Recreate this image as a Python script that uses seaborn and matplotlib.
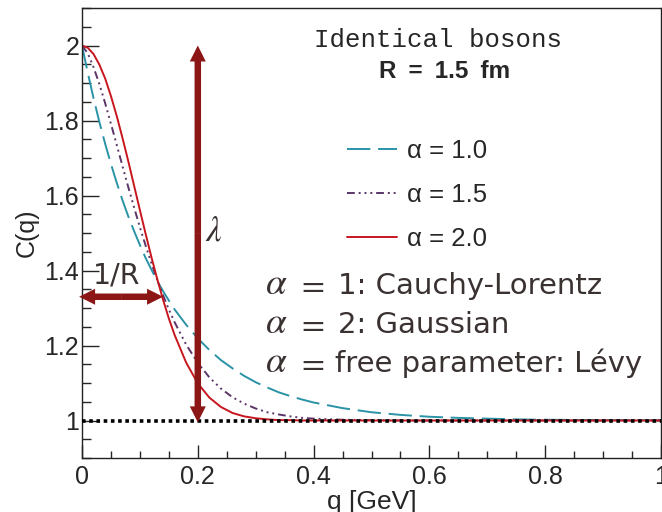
import matplotlib
matplotlib.use("Agg")
import matplotlib.pyplot as plt
import seaborn as sns
from matplotlib.ticker import MultipleLocator
from matplotlib.lines import Line2D

# Levy-type two-particle correlation C(q) for identical bosons, R = 1.5 fm
q_gev = [0.00, 0.01, 0.02, 0.03, 0.04, 0.05, 0.06, 0.07, 0.08, 0.09,
         0.10, 0.11, 0.12, 0.13, 0.14, 0.15, 0.16, 0.18, 0.20, 0.22,
         0.24, 0.26, 0.28, 0.30, 0.32, 0.34, 0.36, 0.38, 0.40, 0.45,
         0.50, 0.55, 0.60, 0.65, 0.70, 0.75, 0.80, 0.85, 0.90, 0.95, 1.00]

c_alpha_10 = [2.000, 1.927, 1.859, 1.796, 1.738, 1.684, 1.634, 1.587, 1.544, 1.505,
              1.468, 1.433, 1.402, 1.372, 1.345, 1.320, 1.296, 1.255, 1.219, 1.188,
              1.161, 1.139, 1.119, 1.102, 1.088, 1.075, 1.065, 1.056, 1.048, 1.033,
              1.022, 1.015, 1.010, 1.007, 1.005, 1.003, 1.002, 1.0015, 1.001, 1.0007, 1.0005]

c_alpha_15 = [2.000, 1.979, 1.942, 1.897, 1.846, 1.791, 1.735, 1.678, 1.622, 1.568,
              1.515, 1.466, 1.419, 1.375, 1.334, 1.296, 1.262, 1.202, 1.154, 1.115,
              1.085, 1.062, 1.045, 1.032, 1.022, 1.016, 1.011, 1.007, 1.005, 1.002,
              1.001, 1.000, 1.000, 1.000, 1.000, 1.000, 1.000, 1.000, 1.000, 1.000, 1.000]

c_alpha_20 = [2.000, 1.994, 1.977, 1.949, 1.912, 1.865, 1.812, 1.753, 1.691, 1.626,
              1.561, 1.497, 1.435, 1.377, 1.322, 1.272, 1.228, 1.154, 1.099, 1.061,
              1.036, 1.020, 1.011, 1.006, 1.003, 1.001, 1.001, 1.000, 1.000, 1.000,
              1.000, 1.000, 1.000, 1.000, 1.000, 1.000, 1.000, 1.000, 1.000, 1.000, 1.000]

series_labels = ["\u03b1 = 1.0", "\u03b1 = 1.5", "\u03b1 = 2.0"]
x_ticks = [0.0, 0.2, 0.4, 0.6, 0.8, 1.0]
x_tick_labels = ["0", "0.2", "0.4", "0.6", "0.8", "1"]
y_ticks = [1.0, 1.2, 1.4, 1.6, 1.8, 2.0]
y_tick_labels = ["1", "1.2", "1.4", "1.6", "1.8", "2"]
baseline = 1.0

# annotation arrows: intercept strength lambda at q = 0.2, width 1/R at C = 1.33
lambda_q = 0.2
lambda_range = (0.995, 2.0)
inv_r_level = 1.33
inv_r_range = (-0.005, 0.140)

note_values = ["1: Cauchy-Lorentz", "2: Gaussian", "free parameter: L\u00e9vy"]

W, H = 662, 512
sns.set_style("ticks")
plt.rcParams["font.family"] = ["Liberation Sans", "DejaVu Sans"]
plt.rcParams["mathtext.fontset"] = "stix"

fig = plt.figure(figsize=(W / 100, H / 100), dpi=100)
ax = fig.add_axes([82 / W, 1 - 458 / H, (661 - 82) / W, (458 - 8) / H])


def fx(px):
    return px / W


def fy(py):
    return 1 - py / H


teal = "#2a93a6"
purple = "#5b3568"
red = "#c8161e"
arrow_red = "#8c1616"
note_col = "#3a3131"

styles = [
    (c_alpha_10, teal, (0, (12, 4))),
    (c_alpha_15, purple, (0, (4, 2, 1, 2, 1, 2, 1, 2))),
    (c_alpha_20, red, "-"),
]
for vals, col, ls in styles:
    sns.lineplot(x=q_gev, y=vals, ax=ax, color=col, linewidth=1.4,
                 linestyle=ls, errorbar=None, legend=False)

ax.axhline(baseline, color="black", linewidth=2.6, linestyle=(0, (1, 1)),
           dash_capstyle="butt", zorder=4)

ax.set_xlim(0, 1)
ax.set_ylim(0.9, 2.1)
ax.set_xticks(x_ticks)
ax.set_xticklabels(x_tick_labels)
ax.set_yticks(y_ticks)
ax.set_yticklabels(y_tick_labels)
ax.xaxis.set_minor_locator(MultipleLocator(0.05))
ax.yaxis.set_minor_locator(MultipleLocator(0.05))
ax.tick_params(axis="y", which="major", direction="in", length=12.5, width=1,
               labelsize=18, pad=2, right=False)
ax.tick_params(axis="y", which="minor", direction="in", length=6.2, width=1, right=False)
ax.tick_params(axis="x", which="major", direction="in", length=9.7, width=1,
               labelsize=18, pad=5, top=False)
ax.tick_params(axis="x", which="minor", direction="in", length=4.9, width=1, top=False)
for lab in ax.get_xticklabels() + ax.get_yticklabels():
    lab.set_family(["Liberation Sans", "DejaVu Sans"])
for sp in ax.spines.values():
    sp.set_linewidth(1.0)
    sp.set_color("#222222")

ax.set_xlabel("q [GeV]", fontsize=19, labelpad=1)
ax.set_ylabel("C(q)", fontsize=18, labelpad=4)

handles = [Line2D([], [], color=c, linewidth=1.4, linestyle=ls) for _, c, ls in styles]
ax.legend(handles, series_labels, loc="upper left",
          bbox_to_anchor=(fx(347), fy(138.5)), bbox_transform=fig.transFigure,
          frameon=False, fontsize=18.5, handlelength=1.95, handletextpad=0.39,
          labelspacing=0.79, borderpad=0, borderaxespad=0)

fig.text(fx(438), fy(40), "Identical bosons", family="Liberation Mono",
         fontsize=18.5, ha="center", va="center")
fig.text(fx(445), fy(72), "R\u2002=\u20021.5\u2002fm", fontsize=17.5,
         fontweight="bold", ha="center", va="center")


# double-headed arrows
def double_arrow(x0, y0, x1, y1, width, head_w, head_l):
    xm, ym = (x0 + x1) / 2, (y0 + y1) / 2
    for xe, ye in ((x0, y0), (x1, y1)):
        ax.arrow(xm, ym, xe - xm, ye - ym, width=width, head_width=head_w,
                 head_length=head_l, length_includes_head=True, color=arrow_red,
                 linewidth=0, zorder=5, clip_on=False)


double_arrow(lambda_q, lambda_range[0], lambda_q, lambda_range[1],
             width=6.5 / 579, head_w=16 / 579, head_l=16 / 375)
double_arrow(inv_r_range[0], inv_r_level, inv_r_range[1], inv_r_level,
             width=6.5 / 375, head_w=16 / 375, head_l=16 / 579)

note_font = ["DejaVu Sans"]
fig.text(fx(93), fy(283), "1/R", family=note_font, fontsize=20.5,
         color=note_col, ha="left", va="baseline")
fig.text(fx(214), fy(231), r"$\lambda$", fontsize=25, color=note_col,
         ha="center", va="center")

for i, t in enumerate(note_values):
    yb = fy(294 + 39 * i)
    fig.text(fx(265), yb, r"$\alpha$", fontsize=27, color=note_col,
             ha="left", va="baseline")
    fig.text(fx(311), yb, r"$=$", fontsize=24, color=note_col,
             ha="center", va="baseline")
    x0 = 335 if i == 2 else 338
    fig.text(fx(x0), yb, t, family=note_font, fontsize=21, color=note_col,
             ha="left", va="baseline")

fig.savefig("out.png", dpi=100)
